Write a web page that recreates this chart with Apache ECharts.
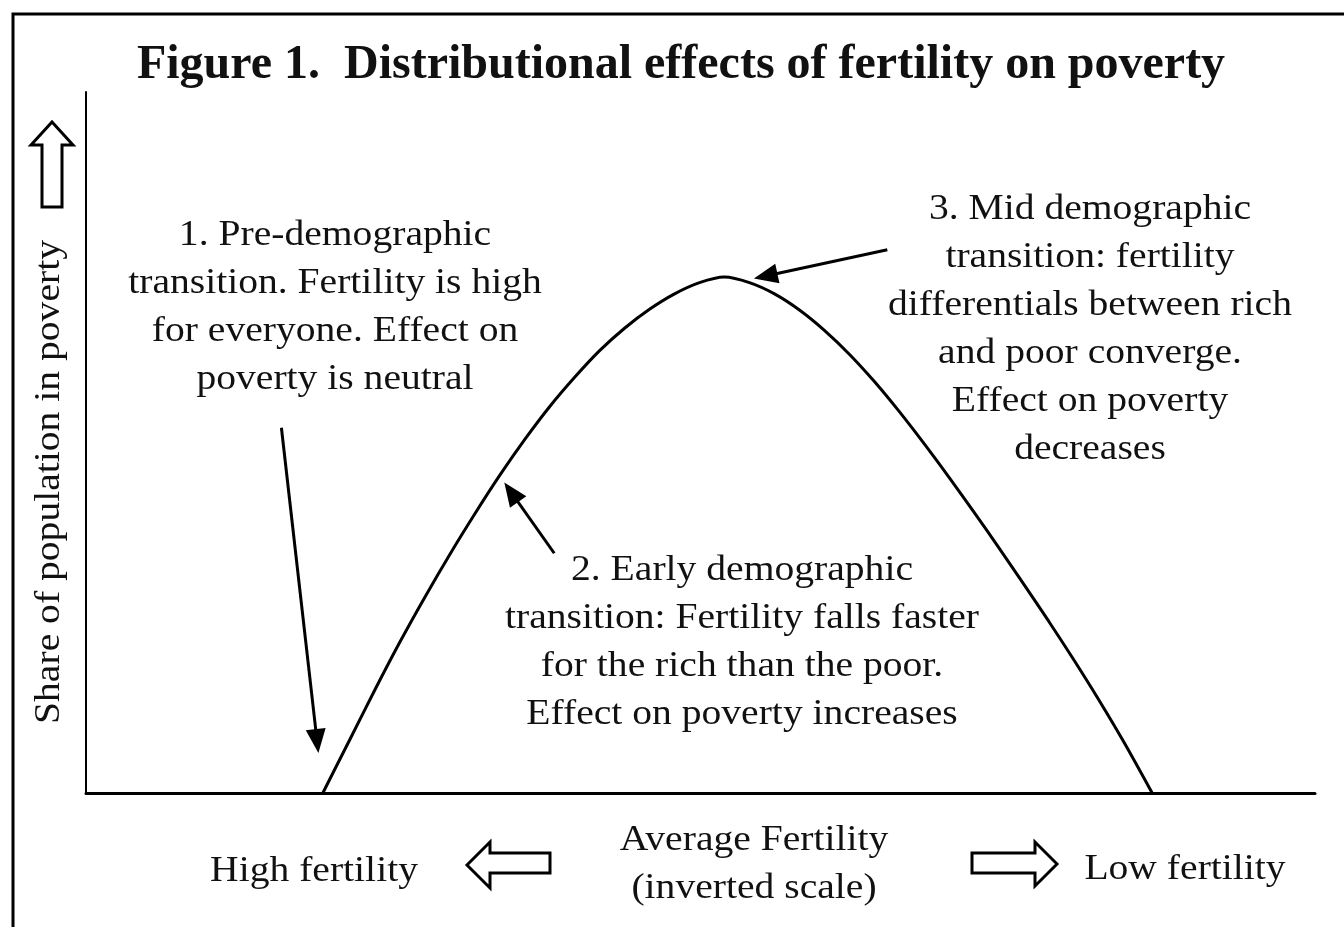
<!DOCTYPE html>
<html>
<head>
<meta charset="utf-8">
<style>
html,body{margin:0;padding:0;background:#fff;}
#chart{width:1344px;height:927px;}
</style>
<script src="https://cdn.jsdelivr.net/npm/echarts@6/dist/echarts.min.js"></script>
</head>
<body>
<div id="chart"></div>
<script>
// ---- data (axis units: fertility position 0..100, share in poverty 0..100) ----
const curveX = [19.27, 21.46, 23.50, 25.53, 27.56, 29.59, 31.63, 33.66, 35.69, 37.72, 39.76, 41.79, 43.82, 45.85, 47.89, 49.92, 51.95,
                53.98, 56.02, 58.05, 60.08, 62.11, 64.15, 66.18, 68.21, 70.24, 72.28, 74.31, 76.34, 78.37, 80.41, 82.44, 84.47, 86.75];
const curveY = [0, 7.6, 14.7, 21.5, 27.9, 34.0, 39.8, 45.3, 50.4, 55.1, 59.3, 63.1, 66.3, 69.0, 71.2, 72.8, 73.6,
                72.8, 71.2, 68.9, 66.0, 62.6, 58.7, 54.4, 49.8, 45.0, 40.0, 34.9, 29.7, 24.4, 18.9, 13.2, 7.2, 0];
const arrowStartX = [15.9, 38.1, 65.2];
const arrowStartY = [52.1, 34.2, 77.5];
const arrowEndX = [18.8, 34.6, 55.3];
const arrowEndY = [7.4, 42.9, 73.75];

const titleText = 'Figure 1.  Distributional effects of fertility on poverty';
const yAxisLabel = 'Share of population in poverty';
const xAxisLabelLines = ['Average Fertility', '(inverted scale)'];
const leftLabel = 'High fertility';
const rightLabel = 'Low fertility';
const note1 = ['1. Pre-demographic', 'transition. Fertility is high', 'for everyone. Effect on', 'poverty is neutral'];
const note2 = ['2. Early demographic', 'transition: Fertility falls faster', 'for the rich than the poor.', 'Effect on poverty increases'];
const note3 = ['3. Mid demographic', 'transition: fertility', 'differentials between rich', 'and poor converge.', 'Effect on poverty', 'decreases'];

const serif = '"Liberation Serif", "DejaVu Serif", serif';
const chart = echarts.init(document.getElementById('chart'));

const curveData = curveX.map((x, i) => [x, curveY[i]]);
const arrowLines = arrowStartX.map((x, i) => [
  { coord: [x, arrowStartY[i]] },
  { coord: [arrowEndX[i], arrowEndY[i]] }
]);

function txt(lines, x, y, size, weight, sx) {
  return {
    type: 'text', x: x, y: y, scaleX: sx || 1, silent: true,
    style: {
      text: lines.join('\n'), fontFamily: serif, fontSize: size, fontWeight: weight || 'normal',
      lineHeight: 48, textAlign: 'center', textVerticalAlign: 'middle', fill: '#111'
    }
  };
}
const FS = 36, SX = 1.1;

const option = {
  backgroundColor: '#fff',
  animation: false,
  grid: { left: 86, right: 29, top: 92, bottom: 134 },
  xAxis: {
    type: 'value', min: 0, max: 100,
    axisLine: { show: true, lineStyle: { color: '#000', width: 3 } },
    axisTick: { show: false }, axisLabel: { show: false }, splitLine: { show: false }
  },
  yAxis: {
    type: 'value', min: 0, max: 100,
    axisLine: { show: true, lineStyle: { color: '#000', width: 2 } },
    axisTick: { show: false }, axisLabel: { show: false }, splitLine: { show: false }
  },
  series: [{
    type: 'line',
    data: curveData,
    smooth: 0.3,
    showSymbol: false,
    lineStyle: { color: '#000', width: 3 },
    markLine: {
      silent: true,
      symbol: ['none', 'triangle'],
      symbolSize: [20, 24],
      label: { show: false },
      lineStyle: { color: '#000', width: 3, type: 'solid' },
      data: arrowLines
    }
  }],
  graphic: [
    { type: 'rect', silent: true, shape: { x: 13, y: 14, width: 1400, height: 1000 },
      style: { fill: 'none', stroke: '#000', lineWidth: 3 } },
    txt([titleText], 681, 66, 48, 'bold'),
    { type: 'text', x: 50, y: 482, rotation: Math.PI / 2, scaleX: SX, silent: true,
      style: { text: yAxisLabel, fontFamily: serif, fontSize: FS, textAlign: 'center',
               textVerticalAlign: 'middle', fill: '#111' } },
    { type: 'polygon', silent: true,
      shape: { points: [[42,207],[62,207],[62,145],[73,145],[52,122],[31,145],[42,145]] },
      style: { fill: '#fff', stroke: '#000', lineWidth: 3 } },
    { type: 'polygon', silent: true,
      shape: { points: [[467,865],[490,842],[490,853],[550,853],[550,873],[490,873],[490,888]] },
      style: { fill: '#fff', stroke: '#000', lineWidth: 3 } },
    { type: 'polygon', silent: true,
      shape: { points: [[1057,864],[1035,842],[1035,853],[972,853],[972,873],[1035,873],[1035,886]] },
      style: { fill: '#fff', stroke: '#000', lineWidth: 3 } },
    txt(note1, 335, 308, FS, 'normal', SX),
    txt(note2, 742, 643, FS, 'normal', SX),
    txt(note3, 1090, 330, FS, 'normal', SX),
    txt(xAxisLabelLines, 754, 865, FS, 'normal', SX),
    txt([leftLabel], 314, 872, FS, 'normal', SX),
    txt([rightLabel], 1185, 870, FS, 'normal', SX)
  ]
};
chart.setOption(option);
</script>
</body>
</html>
